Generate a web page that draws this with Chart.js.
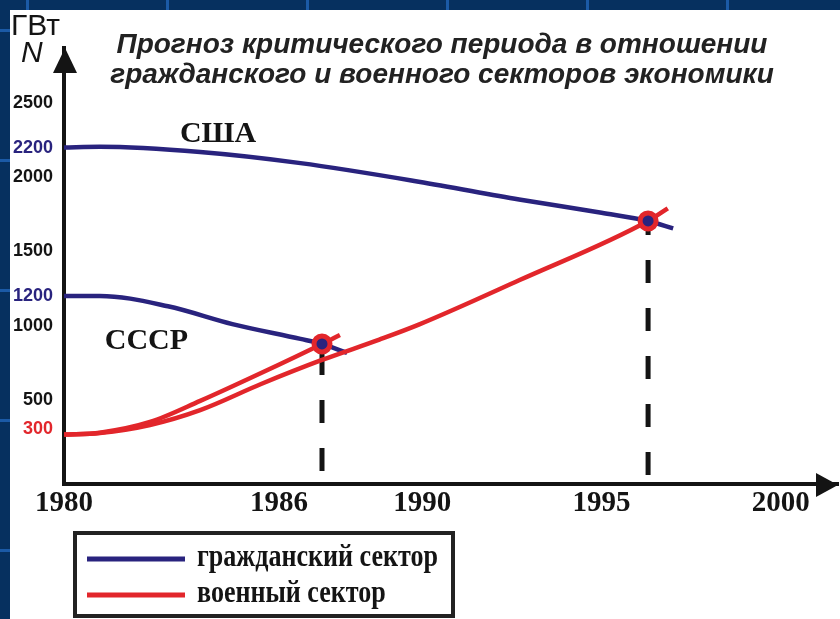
<!DOCTYPE html>
<html lang="ru">
<head>
<meta charset="utf-8">
<title>Прогноз критического периода</title>
<script src="https://cdn.jsdelivr.net/npm/chart.js@4.4.1/dist/chart.umd.min.js"></script>
<style>
  html, body { margin: 0; padding: 0; }
  body {
    width: 840px; height: 619px; overflow: hidden; position: relative;
    background-color: #06305f;
    background-image:
      repeating-linear-gradient(90deg, transparent 0 26px, #1b5aa6 26px 29px, transparent 29px 140px),
      repeating-linear-gradient(180deg, transparent 0 29px, #1b5aa6 29px 32px, transparent 32px 130px);
  }
  .panel { position: absolute; left: 10px; top: 10px; width: 830px; height: 609px; background: #fff; }
  canvas { position: absolute; left: 0; top: 0; }
</style>
</head>
<body>
<div class="panel"></div>
<canvas id="chart" width="840" height="619"></canvas>
<script>
// axis ticks
const yearTicks = [1980, 1986, 1990, 1995, 2000];
const powerTicks = [300, 500, 1000, 1200, 1500, 2000, 2200, 2500];

// civilian sector, GW
const usaCivilYears  = [1980, 1981, 1983.8, 1986.6, 1989.9, 1992.7, 1995, 1996.3, 1997];
const usaCivilValues = [2200, 2205, 2170, 2095, 1970, 1850, 1760, 1705, 1655];
const ussrCivilYears  = [1980, 1981, 1982.9, 1984.7, 1986.6, 1987.2, 1987.9];
const ussrCivilValues = [1200, 1200, 1130, 1010, 910, 876, 815];

// military sector, GW
const usaMilYears  = [1980, 1981, 1982.4, 1983.8, 1985.5, 1987.2, 1988.8, 1989.9, 1992.7, 1996.3, 1996.85];
const usaMilValues = [265, 276, 330, 430, 606, 768, 905, 1006, 1305, 1705, 1790];
const ussrMilYears  = [1980, 1981, 1982.4, 1983.8, 1985.5, 1987.2, 1987.7];
const ussrMilValues = [265, 278, 350, 492, 680, 876, 937];

// critical points (civilian = military)
const crossYears  = [1987.2, 1996.3];
const crossValues = [876, 1705];

const legendLabels = ['гражданский сектор', 'военный сектор'];
const countryLabels = ['США', 'СССР'];

const NAVY = '#29237e';
const RED = '#e2262b';
const INK = '#141414';

const pts = (xs, ys) => xs.map((x, i) => ({x: x, y: ys[i]}));

function curve(label, xs, ys, color) {
  return {
    label: label,
    data: pts(xs, ys),
    borderColor: color,
    borderWidth: 4.5,
    pointRadius: 0,
    cubicInterpolationMode: 'monotone',
    borderCapStyle: 'butt'
  };
}

// dashed drops from each critical point to the time axis
function drop(i, offset) {
  return {
    label: 'drop' + i,
    data: [{x: crossYears[i], y: crossValues[i]}, {x: crossYears[i], y: -10}],
    borderColor: INK,
    borderWidth: 5,
    borderDash: [23, 25],
    borderDashOffset: offset,
    pointRadius: 0
  };
}

const datasets = [
  {
    label: 'critical',
    data: pts(crossYears, crossValues),
    showLine: false,
    pointRadius: 8,
    pointBorderWidth: 5,
    pointBorderColor: RED,
    pointBackgroundColor: NAVY
  },
  curve('СССР военный', ussrMilYears, ussrMilValues, RED),
  curve('США военный', usaMilYears, usaMilValues, RED),
  curve('СССР гражданский', ussrCivilYears, ussrCivilValues, NAVY),
  curve('США гражданский', usaCivilYears, usaCivilValues, NAVY),
  drop(0, 40),
  drop(1, 9)
];

function tickColor(v) {
  if (v === 2200 || v === 1200) return NAVY;
  if (v === 300) return RED;
  return INK;
}

const decor = {
  id: 'decor',
  afterDraw(chart) {
    const {ctx, chartArea: a, scales: {x, y}} = chart;
    ctx.save();

    // axis arrows
    ctx.fillStyle = INK;
    ctx.beginPath();
    ctx.moveTo(a.left + 1, a.top);
    ctx.lineTo(a.left - 11, a.top + 25);
    ctx.lineTo(a.left + 13, a.top + 25);
    ctx.closePath();
    ctx.fill();
    ctx.beginPath();
    ctx.moveTo(a.right, a.bottom + 1);
    ctx.lineTo(a.right - 22, a.bottom - 11);
    ctx.lineTo(a.right - 22, a.bottom + 13);
    ctx.closePath();
    ctx.fill();

    // unit and axis name
    ctx.fillStyle = INK;
    ctx.textAlign = 'left';
    ctx.textBaseline = 'alphabetic';
    ctx.font = '30px "Liberation Sans", Arial, sans-serif';
    ctx.fillText('ГВт', 11, 35);
    ctx.font = 'italic 30px "Liberation Sans", Arial, sans-serif';
    ctx.fillText('N', 21, 62);

    // title
    ctx.fillStyle = '#222';
    ctx.textAlign = 'center';
    ctx.font = 'italic bold 28px "Liberation Sans", Arial, sans-serif';
    ctx.fillText('Прогноз критического периода в отношении', 442, 53);
    ctx.fillText('гражданского и военного секторов экономики', 442, 83);

    // country names
    ctx.fillStyle = INK;
    ctx.font = 'bold 30px "Liberation Serif", "Times New Roman", serif';
    ctx.fillText(countryLabels[0], x.getPixelForValue(1984.3), y.getPixelForValue(2238));
    ctx.fillText(countryLabels[1], x.getPixelForValue(1982.3), y.getPixelForValue(842));

    // legend box
    ctx.strokeStyle = '#222';
    ctx.lineWidth = 4;
    ctx.strokeRect(75, 533, 378, 83);
    const colors = [NAVY, RED];
    const rows = [559, 595];
    ctx.font = 'bold 32px "Liberation Serif", "Times New Roman", serif';
    const sx = 241 / ctx.measureText(legendLabels[0]).width;
    ctx.textAlign = 'left';
    ctx.textBaseline = 'middle';
    legendLabels.forEach((txt, i) => {
      ctx.strokeStyle = colors[i];
      ctx.lineWidth = 5;
      ctx.beginPath();
      ctx.moveTo(87, rows[i]);
      ctx.lineTo(185, rows[i]);
      ctx.stroke();
      ctx.save();
      ctx.translate(197, rows[i] - 1);
      ctx.scale(sx, 1);
      ctx.fillStyle = INK;
      ctx.fillText(txt, 0, 0);
      ctx.restore();
    });
    ctx.restore();
  }
};

new Chart(document.getElementById('chart'), {
  type: 'line',
  data: { datasets: datasets },
  options: {
    responsive: false,
    animation: false,
    events: [],
    layout: { autoPadding: false, padding: { left: 0, right: 2, top: 48, bottom: 0 } },
    plugins: { legend: { display: false }, tooltip: { enabled: false } },
    scales: {
      x: {
        type: 'linear',
        min: 1980,
        max: 2001.6,
        afterBuildTicks: s => { s.ticks = yearTicks.map(v => ({value: v})); },
        afterFit: s => { s.height = 135; s.paddingLeft = 0; s.paddingRight = 0; },
        grid: { display: false, drawTicks: false },
        border: { display: true, color: INK, width: 4 },
        ticks: {
          autoSkip: false,
          maxRotation: 0,
          padding: 2,
          color: INK,
          font: { family: '"Liberation Serif", "Times New Roman", serif', size: 29, weight: 'bold' },
          callback: v => String(v)
        }
      },
      y: {
        type: 'linear',
        min: -68,
        max: 2871,
        afterBuildTicks: s => { s.ticks = powerTicks.map(v => ({value: v})); },
        afterFit: s => { s.width = 64; s.paddingTop = 0; s.paddingBottom = 0; },
        grid: { display: false, drawTicks: false },
        border: { display: true, color: INK, width: 4 },
        ticks: {
          autoSkip: false,
          padding: 11,
          color: c => tickColor(c.tick.value),
          font: { family: '"Liberation Sans", Arial, sans-serif', size: 18, weight: 'bold' },
          callback: v => String(v)
        }
      }
    }
  },
  plugins: [decor]
});
</script>
</body>
</html>
